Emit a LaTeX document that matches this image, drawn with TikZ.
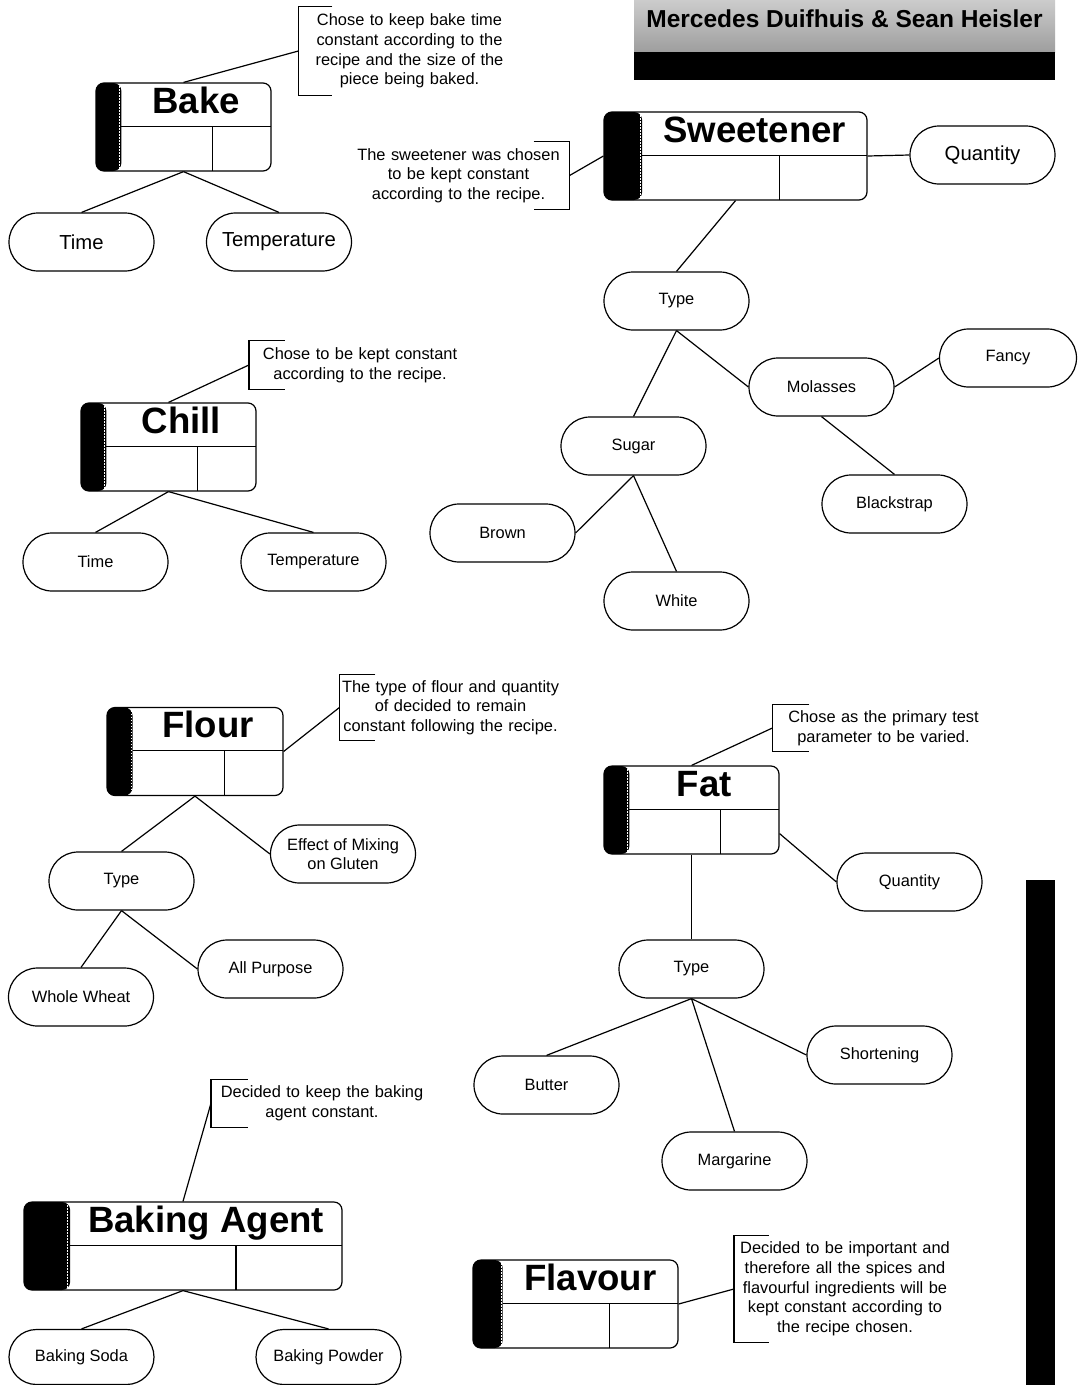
\documentclass[tikz,border=0pt]{standalone}
\usepackage{fontspec}
\setmainfont{Liberation Sans}
\usetikzlibrary{shapes.misc,calc}

\tikzset{
    entity/.style={draw, rounded corners=8pt, minimum height=88pt, inner sep=0pt,
        path picture={
            \coordinate (pnw) at (path picture bounding box.north west);
            \coordinate (pne) at (path picture bounding box.north east);
            \coordinate (psw) at (path picture bounding box.south west);
            \coordinate (pse) at (path picture bounding box.south east);
            \coordinate (pst) at ($(pnw)!0.145!(pne)$);
            \coordinate (pml) at ($(pnw)!0.49!(psw)$);
            \coordinate (pmr) at ($(pne)!0.49!(pse)$);
            \coordinate (pdv) at ($(psw)!0.6667!(pse)$);
            \fill (psw) rectangle (pst);
            \draw[white, line width=1pt, dash pattern=on 1.5pt off 1.5pt]
                ($(pnw)!0.137!(pne)$) -- ($(psw)!0.137!(pse)$);
            \draw (pst |- pml) -- (pmr);
            \draw (pdv) -- (pdv |- pml);
        }},
    entname/.style={anchor=base, inner sep=0pt, font=\bfseries\fontsize{36.6}{40}\selectfont},
    leaf/.style={draw, rounded rectangle, minimum width=145pt, minimum height=58pt,
        inner sep=0pt, align=center, font=\fontsize{16.4}{19.7}\selectfont},
    bigleaf/.style={leaf, font=\fontsize{20.3}{24}\selectfont},
    notetext/.style={text width=221pt, align=center, inner sep=0pt,
        font=\fontsize{16.4}{19.7}\selectfont},
}

\begin{document}
\begin{tikzpicture}[x=1pt, y=-1pt, line width=1.2pt]

    % Page
    \fill[white] (0,0) rectangle (1077,1385);
    \useasboundingbox (0,0) rectangle (1077,1385);

    % Header with the authors
    \shade[top color=black!20, bottom color=black!38] (634,0) rectangle (1055,52);
    \fill (634,52) rectangle (1055,80);
    \node[anchor=base, font=\bfseries\fontsize{24.5}{28}\selectfont] (authors) at (844.5,27) {Mercedes Duifhuis \& Sean Heisler};

    % Bar on the right
    \fill (1026,880) rectangle (1055,1385);

    % Entities
    \node[entity, minimum width=175pt] (bake) at (183.5,127) {};
    \node[entname] (bake-t) at ($(bake.north west)!0.5725!(bake.north east)+(0,31)$) {Bake};
    \node[entity, minimum width=263pt] (sweet) at (735.5,156) {};
    \node[entname] (sweet-t) at ($(sweet.north west)!0.5725!(sweet.north east)+(0,31)$) {Sweetener};
    \node[entity, minimum width=175pt] (chill) at (168.5,447) {};
    \node[entname] (chill-t) at ($(chill.north west)!0.5725!(chill.north east)+(0,31)$) {Chill};
    \node[entity, minimum width=176pt] (flour) at (195,751.5) {};
    \node[entname] (flour-t) at ($(flour.north west)!0.5725!(flour.north east)+(0,31)$) {Flour};
    \node[entity, minimum width=175pt] (fat) at (691.5,810) {};
    \node[entname] (fat-t) at ($(fat.north west)!0.5725!(fat.north east)+(0,31)$) {Fat};
    \node[entity, minimum width=318pt] (agent) at (183,1246) {};
    \node[entname] (agent-t) at ($(agent.north west)!0.5725!(agent.north east)+(0,31)$) {Baking Agent};
    \node[entity, minimum width=205pt] (flavour) at (575.5,1304) {};
    \node[entname] (flavour-t) at ($(flavour.north west)!0.5725!(flavour.north east)+(0,31)$) {Flavour};

    % Notes
    \node[notetext, minimum height=88pt] (bakenote) at (409.5,51) {Chose to keep bake time\\constant according to the\\recipe and the size of the\\piece being baked.};
    \node[notetext, minimum height=67pt] (sweetnote) at (458.5,175.5) {The sweetener was chosen\\to be kept constant\\according to the recipe.};
    \node[notetext, minimum height=48pt] (chillnote) at (360,365) {Chose to be kept constant\\according to the recipe.};
    \node[notetext, minimum height=65pt] (flournote) at (450.5,707.5) {The type of flour and quantity\\of decided to remain\\constant following the recipe.};
    \node[notetext, minimum height=46pt] (fatnote) at (883.5,728) {Chose as the primary test\\parameter to be varied.};
    \node[notetext, minimum height=47pt] (agentnote) at (322,1103.5) {Decided to keep the baking\\agent constant.};
    \node[notetext, minimum height=106pt] (flavournote) at (845,1289) {Decided to be important and\\therefore all the spices and\\flavourful ingredients will be\\kept constant according to\\the recipe chosen.};

    % Brackets of the notes
    \draw (bakenote.north west) ++(34,0) -- (bakenote.north west) -- (bakenote.south west) -- ++(34,0);
    \draw (sweetnote.north east) ++(-36,0) -- (sweetnote.north east) -- (sweetnote.south east) -- ++(-36,0);
    \draw (chillnote.north west) ++(36,0) -- (chillnote.north west) -- (chillnote.south west) -- ++(36,0);
    \draw (flournote.north west) ++(36,0) -- (flournote.north west) -- (flournote.south west) -- ++(36,0);
    \draw (fatnote.north west) ++(37,0) -- (fatnote.north west) -- (fatnote.south west) -- ++(37,0);
    \draw (agentnote.north west) ++(37,0) -- (agentnote.north west) -- (agentnote.south west) -- ++(37,0);
    \draw (flavournote.north west) ++(35,0) -- (flavournote.north west) -- (flavournote.south west) -- ++(35,0);

    % Attributes
    \node[bigleaf] (baketime) at (81.5,242) {Time};
    \node[bigleaf] (baketemp) at (279,242) {Temperature};
    \node[bigleaf] (sweetqty) at (982.5,155) {Quantity};
    \node[leaf] (sweettype) at (676.5,301) {Type};
    \node[leaf] (molasses) at (821.5,387) {Molasses};
    \node[leaf, minimum width=137pt] (fancy) at (1008,358) {Fancy};
    \node[leaf] (sugar) at (633.5,446) {Sugar};
    \node[leaf] (blackstrap) at (894.5,504) {Blackstrap};
    \node[leaf] (brownsugar) at (502.5,533) {Brown};
    \node[leaf] (whitesugar) at (676.5,601) {White};
    \node[leaf] (chilltime) at (95.5,562) {Time};
    \node[leaf] (chilltemp) at (313.5,562) {Temperature};
    \node[leaf] (flourtype) at (121.5,881) {Type};
    \node[leaf] (mixing) at (343,854) {Effect of Mixing\\on Gluten};
    \node[leaf] (allpurpose) at (270.5,969) {All Purpose};
    \node[leaf] (wholewheat) at (81,997) {Whole Wheat};
    \node[leaf] (fatqty) at (909.5,882) {Quantity};
    \node[leaf] (fattype) at (691.5,969) {Type};
    \node[leaf] (butter) at (546.5,1085) {Butter};
    \node[leaf] (shortening) at (879.5,1055) {Shortening};
    \node[leaf] (margarine) at (734.5,1161) {Margarine};
    \node[leaf, minimum height=55pt] (soda) at (81.5,1357) {Baking Soda};
    \node[leaf, minimum height=55pt] (powder) at (328.5,1357) {Baking Powder};

    % Bake
    \draw (bake.north) -- (bakenote.west);
    \draw (bake.south) -- (baketime.north);
    \draw (bake.south) -- (baketemp.north);

    % Sweetener
    \draw (sweetnote.east) -- (sweet.west);
    \draw (sweet.east) -- (sweetqty.west);
    \draw (sweet.south) -- (sweettype.north);
    \draw (sweettype.south) -- (sugar.north);
    \draw (sweettype.south) -- (molasses.west);
    \draw (molasses.east) -- (fancy.west);
    \draw (molasses.south) -- (blackstrap.north);
    \draw (sugar.south) -- (brownsugar.east);
    \draw (sugar.south) -- (whitesugar.north);

    % Chill
    \draw (chill.north) -- (chillnote.west);
    \draw (chill.south) -- (chilltime.north);
    \draw (chill.south) -- (chilltemp.north);

    % Flour
    \draw (flour.east) -- (flournote.west);
    \draw (flour.south) -- (flourtype.north);
    \draw (flour.south) -- (mixing.west);
    \draw (flourtype.south) -- (wholewheat.north);
    \draw (flourtype.south) -- (allpurpose.west);

    % Fat
    \draw (fat.north) -- (fatnote.west);
    \draw (fat.-15) -- (fatqty.west);
    \draw (fat.south) -- (fattype.north);
    \draw (fattype.south) -- (butter.north);
    \draw (fattype.south) -- (margarine.north);
    \draw (fattype.south) -- (shortening.west);

    % Baking agent
    \draw (agent.north) -- (agentnote.west);
    \draw (agent.south) -- (soda.north);
    \draw (agent.south) -- (powder.north);

    % Flavour
    \draw (flavour.east) -- (flavournote.west);

\end{tikzpicture}
\end{document}
